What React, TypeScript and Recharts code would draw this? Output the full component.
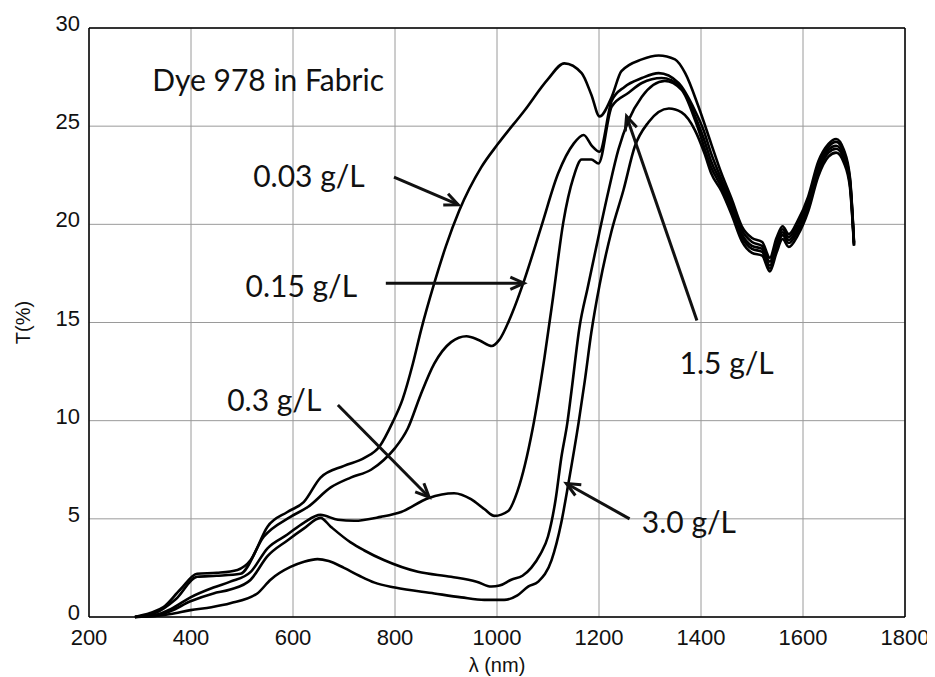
import React from 'react';
import {
  LineChart,
  Line,
  XAxis,
  YAxis,
  CartesianGrid,
  ReferenceLine,
  ReferenceDot,
} from 'recharts';

// wavelength (nm) and transmission (%), one pair of arrays per concentration
const WL_003 = [290, 320, 346, 379, 412, 451, 491, 517, 550, 589, 621, 654, 700, 740, 770, 795, 815, 835, 851, 877, 900, 926, 969, 1002, 1054, 1100, 1132, 1166, 1185, 1201, 1225, 1244, 1284, 1317, 1349, 1369, 1395, 1420, 1440, 1460, 1480, 1500, 1520, 1535, 1548, 1560, 1572, 1590, 1610, 1630, 1650, 1665, 1680, 1692, 1700];
const T_003 = [0.0, 0.2, 0.5, 1.4, 2.2, 2.25, 2.4, 2.9, 4.6, 5.35, 5.85, 7.1, 7.7, 8.1, 8.7, 9.9, 11.1, 12.9, 14.6, 17.0, 18.9, 20.7, 22.9, 24.1, 25.8, 27.4, 28.2, 27.7, 26.6, 25.5, 26.5, 27.8, 28.4, 28.6, 28.4, 27.7, 26.0, 24.1, 22.6, 21.3, 19.9, 19.3, 19.1, 18.3, 19.3, 19.9, 19.5, 20.2, 21.4, 23.2, 24.1, 24.35, 23.8, 22.4, 19.1];

const WL_015 = [290, 330, 370, 412, 450, 497, 543, 595, 629, 674, 713, 753, 778, 800, 825, 850, 877, 910, 940, 965, 990, 1004, 1030, 1054, 1087, 1120, 1150, 1170, 1186, 1201, 1225, 1250, 1284, 1317, 1356, 1388, 1405, 1420, 1440, 1460, 1480, 1500, 1520, 1535, 1548, 1560, 1572, 1590, 1610, 1630, 1650, 1665, 1680, 1692, 1700];
const T_015 = [0.0, 0.2, 0.9, 2.05, 2.1, 2.2, 4.1, 5.1, 5.6, 6.6, 7.1, 7.5, 8.0, 8.6, 9.6, 11.3, 12.9, 14.0, 14.3, 14.1, 13.8, 14.1, 15.5, 17.2, 19.9, 22.6, 24.1, 24.55, 24.0, 23.7, 26.3, 27.0, 27.45, 27.7, 27.2, 25.8, 24.8, 23.6, 22.3, 21.1, 19.7, 19.1, 18.9, 18.1, 19.1, 19.75, 19.35, 20.0, 21.2, 23.0, 23.95, 24.2, 23.65, 22.3, 19.05];

const WL_03 = [290, 330, 360, 399, 444, 477, 517, 550, 589, 621, 654, 688, 720, 772, 812, 865, 916, 949, 975, 995, 1022, 1040, 1070, 1093, 1110, 1130, 1150, 1166, 1185, 1199, 1225, 1258, 1284, 1323, 1360, 1390, 1405, 1420, 1440, 1460, 1480, 1500, 1520, 1535, 1548, 1560, 1572, 1590, 1610, 1630, 1650, 1665, 1680, 1692, 1700];
const T_03 = [0.0, 0.1, 0.4, 1.0, 1.5, 1.8, 2.3, 3.5, 4.2, 4.8, 5.2, 4.95, 4.9, 5.1, 5.35, 6.05, 6.3, 6.0, 5.5, 5.15, 5.4, 6.4, 9.6, 13.2, 16.3, 20.1, 22.4, 23.3, 23.3, 23.1, 26.0, 26.7, 27.2, 27.45, 27.0, 25.4, 24.4, 23.2, 22.1, 20.9, 19.5, 18.9, 18.75, 17.9, 18.9, 19.6, 19.2, 19.8, 21.0, 22.8, 23.8, 24.0, 23.5, 22.2, 19.0];

const WL_15 = [290, 330, 360, 399, 444, 477, 517, 550, 589, 621, 654, 674, 713, 739, 778, 845, 910, 960, 989, 1005, 1028, 1050, 1067, 1085, 1100, 1115, 1126, 1138, 1146, 1162, 1178, 1200, 1219, 1238, 1258, 1284, 1329, 1362, 1390, 1420, 1440, 1460, 1480, 1500, 1520, 1535, 1548, 1560, 1572, 1590, 1610, 1630, 1650, 1665, 1680, 1692, 1700];
const T_15 = [0.0, 0.05, 0.3, 0.8, 1.2, 1.4, 1.9, 3.1, 3.9, 4.5, 5.05, 4.6, 3.8, 3.4, 2.9, 2.3, 2.05, 1.8, 1.55, 1.6, 1.9, 2.1, 2.5, 3.2, 4.1, 6.0, 8.1, 9.9, 11.5, 14.8, 16.8, 19.5, 21.75, 23.8, 25.3, 26.5, 27.3, 26.85, 25.2, 22.9, 21.9, 20.7, 19.35, 18.75, 18.6, 17.75, 18.75, 19.45, 19.05, 19.65, 20.85, 22.65, 23.65, 23.85, 23.35, 22.05, 18.95];

const WL_30 = [290, 330, 360, 399, 440, 477, 530, 556, 595, 620, 648, 670, 700, 730, 760, 800, 877, 930, 975, 1014, 1040, 1061, 1081, 1107, 1126, 1140, 1160, 1172, 1185, 1201, 1225, 1248, 1270, 1297, 1337, 1362, 1388, 1407, 1420, 1440, 1460, 1480, 1500, 1520, 1535, 1548, 1560, 1572, 1590, 1610, 1630, 1650, 1665, 1680, 1692, 1700];
const T_30 = [0.0, 0.05, 0.15, 0.35, 0.5, 0.7, 1.2, 1.9, 2.55, 2.8, 2.95, 2.85, 2.5, 2.1, 1.75, 1.5, 1.2, 1.0, 0.87, 0.87, 1.1, 1.55, 1.8, 2.9, 4.8, 6.8, 9.9, 12.0, 14.5, 16.9, 19.7, 21.75, 23.95, 25.2, 25.9, 25.7, 24.8, 23.6, 22.6, 21.7, 20.5, 19.15, 18.55, 18.4, 17.6, 18.55, 19.25, 18.85, 19.45, 20.65, 22.45, 23.45, 23.65, 23.15, 21.9, 18.9];

const X_TICKS = [200, 400, 600, 800, 1000, 1200, 1400, 1600, 1800];
const Y_TICKS = [0, 5, 10, 15, 20, 25, 30];

const TITLE = 'Dye 978 in Fabric';
// label text, label anchor (wl, T), arrow tail, arrow head
const NOTES = [
  { text: '0.03 g/L', at: [522, 21.9], from: [798, 22.4], to: [924, 21.0] },
  { text: '0.15 g/L', at: [507, 16.3], from: [782, 17.0], to: [1053, 17.0] },
  { text: '0.3 g/L', at: [471, 10.5], from: [688, 10.8], to: [867, 6.1] },
  { text: '1.5 g/L', at: [1358, 12.4], from: [1392, 15.1], to: [1254, 25.5] },
  { text: '3.0 g/L', at: [1284, 4.3], from: [1260, 5.0], to: [1136, 6.8] },
];

const zip = (wl: number[], t: number[]) => wl.map((w, i) => ({ wl: w, t: t[i] }));

const SERIES = [
  { name: '0.03 g/L', data: zip(WL_003, T_003) },
  { name: '0.15 g/L', data: zip(WL_015, T_015) },
  { name: '0.3 g/L', data: zip(WL_03, T_03) },
  { name: '1.5 g/L', data: zip(WL_15, T_15) },
  { name: '3.0 g/L', data: zip(WL_30, T_30) },
];

const AXIS_FONT = "'Liberation Sans', Arial, sans-serif";
const NOTE_FONT = "Lato, 'Open Sans', sans-serif";

function arrowShape(p: any) {
  const { x1, y1, x2, y2 } = p;
  const ang = Math.atan2(y2 - y1, x2 - x1);
  const len = 15;
  const spread = 0.42;
  const ax = x2 - len * Math.cos(ang - spread);
  const ay = y2 - len * Math.sin(ang - spread);
  const bx = x2 - len * Math.cos(ang + spread);
  const by = y2 - len * Math.sin(ang + spread);
  return (
    <g>
      <line x1={x1} y1={y1} x2={x2} y2={y2} stroke="#111" strokeWidth={3} />
      <polyline
        points={`${ax},${ay} ${x2},${y2} ${bx},${by}`}
        fill="none"
        stroke="#111"
        strokeWidth={3}
      />
    </g>
  );
}

const textShape = (text: string, size: number) => (p: any) => (
  <text x={p.cx} y={p.cy} fontFamily={NOTE_FONT} fontSize={size} fill="#111">
    {text}
  </text>
);

// y tick labels sit a touch above their gridline, as in the original
function yTick(p: any) {
  return (
    <text x={p.x} y={p.y} dy={3} textAnchor="end" fill="#111" fontSize={22} fontFamily={AXIS_FONT}>
      {p.payload.value}
    </text>
  );
}

export default function App() {
  return (
    <div style={{ width: 925, height: 669, background: '#fff' }}>
      <LineChart width={925} height={669} margin={{ top: 20, right: 28, left: 0, bottom: 0 }}>
        <CartesianGrid stroke="#9a9a9a" strokeWidth={1} />
        <XAxis
          type="number"
          dataKey="wl"
          domain={[200, 1800]}
          ticks={X_TICKS}
          height={60}
          tickSize={0}
          tickMargin={12}
          axisLine={{ stroke: '#000', strokeWidth: 1.5 }}
          tick={{ fill: '#111', fontSize: 22, fontFamily: AXIS_FONT }}
          label={{ value: 'λ (nm)', position: 'center', dy: 18, fill: '#111', fontSize: 20, fontFamily: AXIS_FONT }}
        />
        <YAxis
          type="number"
          domain={[0, 30]}
          ticks={Y_TICKS}
          width={81}
          tickSize={0}
          tickMargin={9}
          axisLine={{ stroke: '#000', strokeWidth: 1.5 }}
          tick={yTick}
          label={{ value: 'T(%)', angle: -90, position: 'center', dx: -26, fill: '#111', fontSize: 20, fontFamily: AXIS_FONT }}
        />
        <ReferenceLine x={1800} stroke="#000" strokeWidth={1.5} />
        <ReferenceLine y={30} stroke="#000" strokeWidth={1.5} />
        {SERIES.map((s) => (
          <Line
            key={s.name}
            name={s.name}
            data={s.data}
            dataKey="t"
            type="monotone"
            stroke="#000"
            strokeWidth={2.6}
            dot={false}
            isAnimationActive={false}
          />
        ))}
        <ReferenceDot x={324} y={26.8} r={1} shape={textShape(TITLE, 30)} />
        {NOTES.map((n) => (
          <ReferenceLine
            key={`a-${n.text}`}
            segment={[
              { x: n.from[0], y: n.from[1] },
              { x: n.to[0], y: n.to[1] },
            ]}
            shape={arrowShape}
          />
        ))}
        {NOTES.map((n) => (
          <ReferenceDot key={`t-${n.text}`} x={n.at[0]} y={n.at[1]} r={1} shape={textShape(n.text, 30)} />
        ))}
      </LineChart>
    </div>
  );
}
